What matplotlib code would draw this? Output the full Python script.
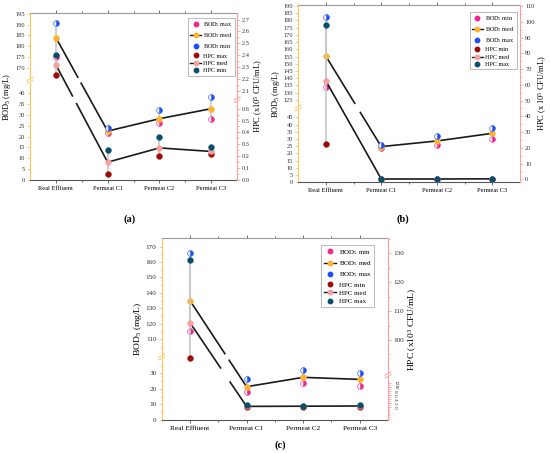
import numpy as np
import matplotlib
matplotlib.use('Agg')
import matplotlib.pyplot as plt
from matplotlib.lines import Line2D

plt.rcParams['font.family'] = ['Liberation Serif', 'DejaVu Serif']
plt.rcParams['mathtext.fontset'] = 'custom'
plt.rcParams['mathtext.rm'] = 'Liberation Serif'
plt.rcParams['mathtext.it'] = 'Liberation Serif:italic'

# ---------------- data ----------------
categories = ["Real Effluent", "Permeat C1", "Permeat C2", "Permeat C3"]

# panel (a)
a_bod_max = [175.0, 21.8, 26.2, 28.2]
a_bod_med = [184.0, 22.5, 28.2, 32.8]
a_bod_min = [191.0, 24.0, 32.2, 38.0]
a_hpc_max = [2.23, 0.05, 0.20, 0.22]
a_hpc_med = [2.32, 0.15, 0.27, 0.24]
a_hpc_min = [2.40, 0.25, 0.36, 0.28]

# panel (b)
b_bod_min = [134.0, 24.0, 26.0, 29.7]
b_bod_med = [155.4, 24.7, 28.6, 33.9]
b_bod_max = [182.2, 25.8, 31.8, 37.8]
b_hpc_min = [22.4, 0.1, 0.1, 0.2]
b_hpc_med = [62.6, 0.2, 0.2, 0.3]
b_hpc_max = [97.7, 0.4, 0.4, 0.5]

# panel (c)
c_bod_min = [115.0, 18.0, 24.0, 22.1]
c_bod_med = [135.0, 21.4, 27.4, 26.1]
c_bod_max = [166.0, 26.1, 32.1, 30.0]
c_hpc_min = [93.6, 0.1, 0.1, 0.1]
c_hpc_med = [106.0, 0.3, 0.4, 0.5]
c_hpc_max = [127.6, 1.0, 0.6, 0.9]

# ---------------- style ----------------
PINK = '#F0288C'
ORANGE = '#FFB22E'
BLUE = '#2050F5'
DRED = '#9E0B0B'
SALMON = '#F4A0A0'
TEAL = '#0A4E6E'
LSPINE = '#FFC65A'
RSPINE = '#FF9E9E'
RANGE = '#C4C4C4'

W, HF = 550.0, 453.0
fig = plt.figure(figsize=(5.5, 4.53), dpi=100)


def pw(dk, tk):
    dk = np.asarray(dk, float)
    tk = np.asarray(tk, float)

    def make(a, b):
        def f(x):
            x = np.asarray(x, float)
            y = np.interp(x, a, b)
            s0 = (b[1] - b[0]) / (a[1] - a[0])
            s1 = (b[-1] - b[-2]) / (a[-1] - a[-2])
            y = np.where(x < a[0], b[0] + (x - a[0]) * s0, y)
            y = np.where(x > a[-1], b[-1] + (x - a[-1]) * s1, y)
            return y
        return f
    return make(dk, tk), make(tk, dk)


def gapped(xs, ds, f, inv, band):
    X, D = [xs[0]], [ds[0]]
    for k in range(len(xs) - 1):
        x0, x1 = xs[k], xs[k + 1]
        t0, t1 = float(f(ds[k])), float(f(ds[k + 1]))
        if band is not None and min(t0, t1) < band[0] and max(t0, t1) > band[1]:
            order = [band[1], band[0]] if t0 > t1 else [band[0], band[1]]
            for j, tc in enumerate(order):
                X.append(x0 + (tc - t0) / (t1 - t0) * (x1 - x0))
                D.append(float(inv(tc)))
                if j == 0:
                    X.append(np.nan)
                    D.append(np.nan)
        X.append(x1)
        D.append(ds[k + 1])
    return X, D


def break_mark(ax, side, tc, wpx, hpx, color):
    x = 0.0 if side == 'left' else 1.0
    y = tc / hpx
    g = 1.3 / hpx
    dx = 3.0 / wpx
    dy = 1.6 / hpx
    ax.plot([x, x], [y - g, y + g], color='white', lw=2.2, transform=ax.transAxes,
            clip_on=False, zorder=20, solid_capstyle='butt')
    for s in (-g, g):
        ax.plot([x - dx, x + dx], [y + s - dy, y + s + dy], color=color, lw=0.7,
                transform=ax.transAxes, clip_on=False, zorder=21)


def panel(box, lk, rk, lbreak, rbreak, lticks, lminor, rticks, rminor,
          bod, hpc, labels, ylab_l, ylab_r, leg_anchor, fs_tick, fs_lab, fs_leg,
          rlabels=None, extra_r=None, lab_l_x=None, lab_r_x=None):
    l, t, r, b = box
    wpx, hpx = r - l, b - t
    ax = fig.add_axes([l / W, 1 - b / HF, wpx / W, hpx / HF])
    ax2 = ax.twinx()
    fl, il = pw(lk[0], lk[1])
    fr, ir = pw(rk[0], rk[1])
    ax.set_yscale('function', functions=(fl, il))
    ax.set_ylim(lk[0][0], lk[0][-1])
    ax2.set_yscale('function', functions=(fr, ir))
    ax2.set_ylim(rk[0][0], rk[0][-1])
    ax.set_xlim(-0.5, 3.5)
    x = np.arange(len(categories))

    # range lines
    for i in range(len(categories)):
        vb = [s[i] for s in bod]
        ax.plot([i, i], [min(vb), max(vb)], color=RANGE, lw=1.1, zorder=2)
        vh = [s[i] for s in hpc]
        ax2.plot([i, i], [min(vh), max(vh)], color=RANGE, lw=1.1, zorder=2)

    lband = None
    if lbreak is not None:
        lband = (float(fl(lbreak[0])) - 1.0, float(fl(lbreak[1])) + 1.0)
    rband = None
    if rbreak is not None:
        rband = (float(fr(rbreak[0])) - 1.0, float(fr(rbreak[1])) + 1.0)

    X, D = gapped(list(x), bod[1], fl, il, lband)
    ax.plot(X, D, color='#1a1a1a', lw=1.2, zorder=3)
    X, D = gapped(list(x), hpc[1], fr, ir, rband)
    ax2.plot(X, D, color='#1a1a1a', lw=1.2, zorder=3)

    ms = 4.2
    bcols = [PINK, ORANGE, BLUE]
    bfill = ['right', 'full', 'right']
    hcols = [DRED, SALMON, TEAL]
    for s, c, fsty in zip(bod, bcols, bfill):
        ax.plot(x, s, 'o', color=c, ms=ms, mec=c, mew=0.4, zorder=5,
                fillstyle=fsty, markerfacecoloralt='#EEF0FF')
    for s, c in zip(hpc, hcols):
        ax2.plot(x, s, 'o', color=c, ms=ms, mec=c, mew=0.3, zorder=5)

    # axes styling
    for a in (ax, ax2):
        a.set_facecolor('none')
    ax.spines['left'].set_color(LSPINE)
    ax.spines['right'].set_visible(False)
    ax.spines['top'].set_color('#9a9a9a')
    ax.spines['bottom'].set_color('#555555')
    ax2.spines['right'].set_color(RSPINE)
    for s in ('left', 'top', 'bottom'):
        ax2.spines[s].set_visible(False)
    for a in (ax, ax2):
        for sp in a.spines.values():
            sp.set_linewidth(0.8)

    ax.set_xticks(x)
    ax.set_xticklabels(categories, fontsize=fs_tick)
    ax.set_xticks([0.5, 1.5, 2.5], minor=True)
    ax.tick_params(axis='x', which='both', direction='out', color='#555555',
                   length=2.2, width=0.6, pad=2, top=True)
    ax.tick_params(axis='x', which='minor', length=1.4)

    ax.set_yticks(lticks)
    ax.set_yticklabels([str(v) for v in lticks], fontsize=fs_tick)
    ax.set_yticks(lminor, minor=True)
    ax.tick_params(axis='y', which='both', direction='out', color=LSPINE,
                   length=2.2, width=0.6, pad=1.5, labelcolor='#333333')
    ax.tick_params(axis='y', which='minor', length=1.3)

    ax2.set_yticks(rticks)
    ax2.set_yticklabels(rlabels, fontsize=fs_tick)
    ax2.set_yticks(rminor, minor=True)
    ax2.tick_params(axis='y', which='both', direction='out', color=RSPINE,
                    length=2.2, width=0.6, pad=1.5, labelcolor='#333333')
    ax2.tick_params(axis='y', which='minor', length=1.3)
    if extra_r is not None:
        for tl in ax2.get_yticklabels():
            if tl.get_text() in extra_r:
                tl.set_rotation(-90)
                tl.set_fontsize(fs_tick * 0.75)
                tl.set_va('center')

    if lbreak is not None:
        break_mark(ax, 'left', (lband[0] + lband[1]) / 2, wpx, hpx, LSPINE)
    if rbreak is not None:
        break_mark(ax2, 'right', (rband[0] + rband[1]) / 2, wpx, hpx, RSPINE)

    ax.set_ylabel(ylab_l, fontsize=fs_lab, labelpad=1.5)
    ax2.set_ylabel(ylab_r, fontsize=fs_lab, labelpad=1.5)
    if lab_l_x is not None:
        ax.yaxis.set_label_coords(lab_l_x, 0.5)
    if lab_r_x is not None:
        ax2.yaxis.set_label_coords(lab_r_x, 0.5)

    handles = [
        Line2D([], [], ls='none', marker='o', color=PINK, ms=3.2),
        Line2D([], [], ls='-', color='#1a1a1a', lw=1.0, marker='o', mfc=ORANGE, mec=ORANGE, ms=3.2),
        Line2D([], [], ls='none', marker='o', color=BLUE, ms=3.2),
        Line2D([], [], ls='none', marker='o', color=DRED, ms=3.2),
        Line2D([], [], ls='-', color='#1a1a1a', lw=1.0, marker='o', mfc=SALMON, mec=SALMON, ms=3.2),
        Line2D([], [], ls='none', marker='o', color=TEAL, ms=3.2),
    ]
    leg = ax2.legend(handles, labels, loc='upper right', bbox_to_anchor=leg_anchor,
                     fontsize=fs_leg, frameon=True, fancybox=False, edgecolor='#888888',
                     handlelength=1.8, handletextpad=0.4, labelspacing=0.35,
                     borderpad=0.35, borderaxespad=0.0)
    leg.get_frame().set_linewidth(0.5)
    leg.set_zorder(30)
    return ax, ax2


BOD = 'BOD$_{5}$'
lab_a = [BOD + ' max', BOD + ' med', BOD + ' min', 'HPC max', 'HPC med', 'HPC min']
lab_bc = [BOD + ' min', BOD + ' med', BOD + ' max', 'HPC min', 'HPC med', 'HPC max']

# ---- panel (a) ----
panel(box=(30, 13, 237, 180),
      lk=([0, 45, 165, 195.5], [0, 97.8, 101.8, 167]),
      rk=([0, 0.65, 2.05, 2.755], [0, 77.3, 83.1, 167]),
      lbreak=(45, 165), rbreak=(0.65, 2.05),
      lticks=[0, 5, 10, 15, 20, 25, 30, 35, 40, 170, 175, 180, 185, 190, 195],
      lminor=[],
      rticks=[0.0, 0.1, 0.2, 0.3, 0.4, 0.5, 0.6, 2.1, 2.2, 2.3, 2.4, 2.5, 2.6, 2.7],
      rminor=[0.05, 0.15, 0.25, 0.35, 0.45, 0.55, 2.15, 2.25, 2.35, 2.45, 2.55, 2.65],
      bod=[a_bod_max, a_bod_med, a_bod_min], hpc=[a_hpc_max, a_hpc_med, a_hpc_min],
      labels=lab_a, ylab_l=BOD + ' (mg/L)', ylab_r='HPC (x10$^{5}$ CFU/mL)',
      leg_anchor=(0.99, 0.97), fs_tick=4.6, fs_lab=6.0, fs_leg=4.4,
      rlabels=['0.0', '0.1', '0.2', '0.3', '0.4', '0.5', '0.6', '2.1', '2.2', '2.3', '2.4', '2.5', '2.6', '2.7'])

# ---- panel (b) ----
panel(box=(298, 4.8, 520, 182.3),
      lk=([0, 49, 122, 190.8], [0, 70.8, 78.0, 177.5]),
      rk=([-1.9, 110.76], [0, 177.5]),
      lbreak=(49, 122), rbreak=None,
      lticks=[0, 5, 10, 15, 20, 25, 30, 35, 40, 45, 125, 130, 135, 140, 145, 150, 155,
              160, 165, 170, 175, 180, 185, 190],
      lminor=[],
      rticks=[0, 10, 20, 30, 40, 50, 60, 70, 80, 90, 100, 110],
      rminor=[5, 15, 25, 35, 45, 55, 65, 75, 85, 95, 105],
      bod=[b_bod_min, b_bod_med, b_bod_max], hpc=[b_hpc_min, b_hpc_med, b_hpc_max],
      labels=lab_bc, ylab_l=BOD + ' (mg/L)', ylab_r='HPC (x 10$^{5}$ CFU/mL)',
      leg_anchor=(0.985, 0.96), fs_tick=4.6, fs_lab=6.0, fs_leg=4.4,
      rlabels=['0', '10', '20', '30', '40', '50', '60', '70', '80', '90', '100', '110'],
      lab_l_x=-0.072)

# ---- panel (c) ----
panel(box=(161.7, 238, 388, 420),
      lk=([0, 39, 100, 175.6], [0, 60.7, 65.4, 182]),
      rk=([-6.5, 13, 90, 135.3], [0, 39, 51.1, 182]),
      lbreak=(39, 100), rbreak=(13, 90),
      lticks=[0, 10, 20, 30, 110, 120, 130, 140, 150, 160, 170],
      lminor=[5, 15, 25, 35, 105, 115, 125, 135, 145, 155, 165],
      rticks=[0, 2, 4, 6, 8, 10, 12, 100, 110, 120, 130],
      rminor=[-6, -5, -4, -3, -2, -1, 1, 3, 5, 7, 9, 11, 95, 105, 115, 125, 135],
      bod=[c_bod_min, c_bod_med, c_bod_max], hpc=[c_hpc_min, c_hpc_med, c_hpc_max],
      labels=lab_bc, ylab_l=BOD + ' (mg/L)', ylab_r='HPC (x10$^{3}$ CFU/mL)',
      leg_anchor=(0.94, 0.96), fs_tick=5.2, fs_lab=6.8, fs_leg=5.0,
      rlabels=['0', '2', '4', '6', '8', '10', '12', '100', '110', '120', '130'],
      extra_r=['0', '2', '4', '6', '8', '10', '12'])

fig.text(130 / W, 1 - 219 / HF, '(a)', fontsize=7.5, fontweight='bold', ha='center', va='center')
fig.text(403 / W, 1 - 219 / HF, '(b)', fontsize=7.5, fontweight='bold', ha='center', va='center')
fig.text(280 / W, 1 - 445 / HF, '(c)', fontsize=7.5, fontweight='bold', ha='center', va='center')

fig.savefig('out.png', dpi=100, facecolor='white')
